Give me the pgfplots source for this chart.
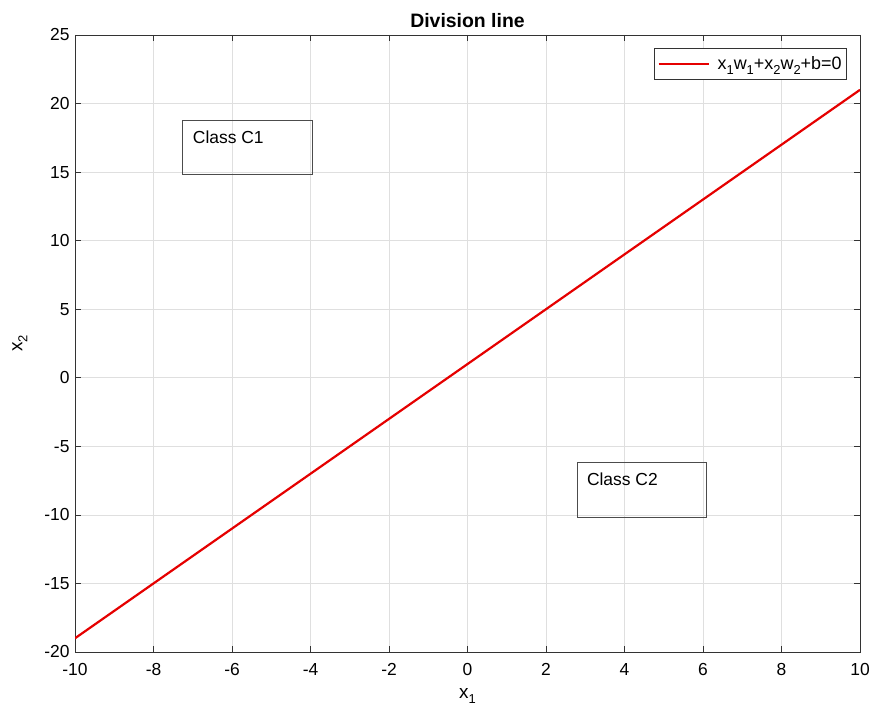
\documentclass[border=0pt]{standalone}
\usepackage{pgfplots}
\pgfplotsset{compat=1.18}
\usepackage{fontspec}
\setmainfont{Liberation Sans}
\newcommand\sub[1]{\raisebox{-5bp}{\fontsize{13}{15}\selectfont #1}}
\begin{document}
\begin{tikzpicture}[x=1bp,y=1bp]
\path[use as bounding box] (0,0) rectangle (872,711);
\begin{axis}[
  at={(75bp,59bp)}, anchor=south west,
  scale only axis, width=785bp, height=617bp,
  xmin=-10, xmax=10, ymin=-20, ymax=25,
  xtick={-10,-8,...,10}, ytick={-20,-15,...,25},
  grid=major, major grid style={gray!25, line width=0.6bp},
  axis line style={black!80, line width=0.7bp},
  tick style={black!80, line width=0.7bp},
  tick align=inside, major tick length=6bp,
  /pgf/number format/assume math mode=true,
  ticklabel style={font=\fontsize{17.5}{20}\selectfont},
  xticklabel style={yshift=-8bp},
  yticklabel style={xshift=-2bp},
  title={\textbf{Division line}},
  title style={font=\fontsize{19.5}{22}\selectfont, yshift=-2bp},
  xlabel={x\sub{1}}, ylabel={x\sub{2}},
  label style={font=\fontsize{19}{22}\selectfont},
  xlabel style={yshift=-6bp},
  ylabel style={yshift=10bp},
  legend style={at={(0.9834,0.9787)}, anchor=north east, draw=black!80, line width=0.7bp,
    font=\fontsize{18}{21}\selectfont, inner xsep=3bp, inner ysep=6bp},
  legend cell align=left,
  legend image code/.code={\draw[#1, line width=2bp] (0bp,0bp) -- (50bp,0bp); \path (56bp,0bp);},
]
\addplot[red!90!black, line width=2.2bp] coordinates {(-10,-19) (10,21)};
\addlegendentry{x\sub{1}w\sub{1}+x\sub{2}w\sub{2}+b=0}
\draw[black!70, line width=0.9bp] (axis cs:-7.25,18.8) rectangle (axis cs:-3.94,14.86);
\node[anchor=north west, font=\fontsize{17.5}{20}\selectfont, inner sep=0pt] at (axis cs:-7.0,18.05) {Class C1};
\draw[black!70, line width=0.9bp] (axis cs:2.79,-6.2) rectangle (axis cs:6.1,-10.16);
\node[anchor=north west, font=\fontsize{17.5}{20}\selectfont, inner sep=0pt] at (axis cs:3.04,-6.95) {Class C2};
\end{axis}
\end{tikzpicture}
\end{document}
